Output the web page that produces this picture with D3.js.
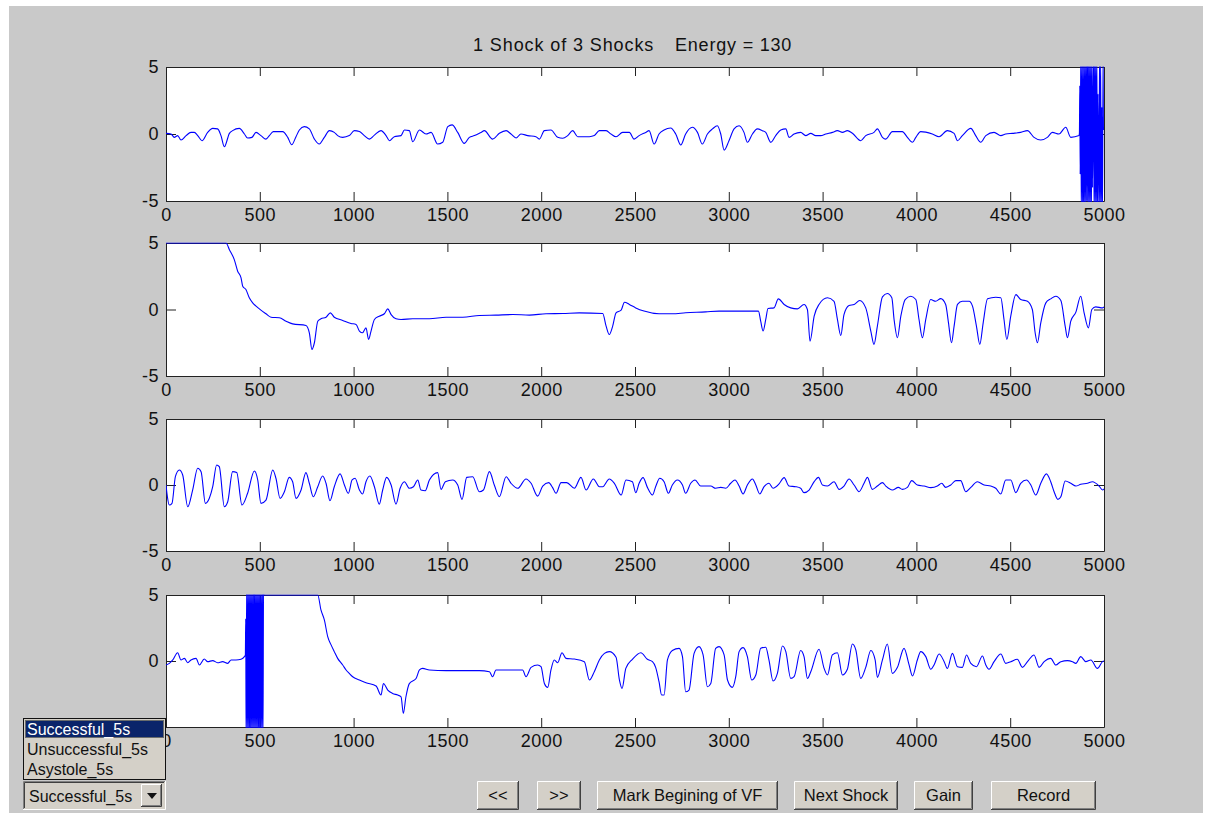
<!DOCTYPE html>
<html>
<head>
<meta charset="utf-8">
<script src="https://cdn.jsdelivr.net/npm/d3@7"></script>
<style>
  body { margin: 0; background: #fff; }
  svg { display: block; font-family: "Liberation Sans", Arial, sans-serif; }
</style>
</head>
<body>
<div class="fig"></div>
<script>
// ---- data: [sample, value] ----
const titleLeft = "1 Shock of 3 Shocks"
const titleRight = "Energy = 130"
const xTicks = [0, 500, 1000, 1500, 2000, 2500, 3000, 3500, 4000, 4500, 5000]
const yTicks = [-5, 0, 5]

const ch1 = [[0,0.05],[27,0],[44,-0.25],[62,-0.12],[80,-0.45],[107,-0.12],[133,0.12],[151,0.12],[169,-0.12],[192,-0.5],[222,0.12],[249,0.42],[275,0.38],[293,-0.12],[311,-0.95],[338,0.05],[355,0.25],[391,0.42],[418,0],[435,-0.3],[458,-0.25],[480,0.12],[506,-0.12],[533,-0.38],[551,-0.12],[572,0.18],[622,0.18],[649,-0.25],[670,-0.8],[693,-0.2],[711,0.3],[737,0.55],[764,0.38],[791,-0.38],[817,-0.75],[844,-0.25],[871,0.25],[897,0.12],[915,-0.12],[942,-0.25],[977,-0.12],[1004,0.25],[1031,0.18],[1057,-0.12],[1084,-0.38],[1111,-0.08],[1146,0.25],[1173,-0.12],[1191,-0.5],[1217,-0.2],[1253,-0.12],[1271,0.3],[1297,0.25],[1315,-0.58],[1351,0.3],[1386,0],[1413,0.12],[1448,-0.75],[1475,-0.62],[1502,0.55],[1525,0.68],[1555,0.12],[1590,-0.7],[1617,-0.25],[1644,-0.12],[1679,0.12],[1697,0.25],[1741,-0.38],[1777,0.05],[1813,0.25],[1839,0],[1866,-0.3],[1892,0],[1928,-0.12],[1972,-0.2],[1990,-0.38],[2017,0.25],[2052,0.3],[2088,-0.25],[2115,-0.32],[2141,-0.12],[2168,0.25],[2195,-0.2],[2257,-0.2],[2283,-0.12],[2310,0.25],[2346,0.25],[2372,0],[2399,-0.2],[2434,0.12],[2470,0.12],[2495,-0.38],[2522,-0.12],[2557,0.12],[2575,0.25],[2602,-0.75],[2628,0],[2655,0.3],[2690,0.45],[2717,0],[2744,-0.82],[2770,0],[2806,0.5],[2833,0.12],[2859,-0.75],[2886,0],[2913,0.38],[2939,0.62],[2957,0],[2975,-1.2],[3001,-0.5],[3028,0.38],[3055,0.62],[3081,0.12],[3099,-0.62],[3126,0],[3152,0.38],[3179,0.25],[3197,0.12],[3224,-0.62],[3250,-0.12],[3277,0.3],[3304,0.38],[3321,-0.25],[3348,0],[3383,0.12],[3410,-0.12],[3437,0.05],[3463,-0.12],[3490,-0.12],[3517,0],[3552,0.12],[3579,0.25],[3606,0.12],[3632,0.25],[3659,0.05],[3703,-0.5],[3730,-0.12],[3774,0.12],[3792,0.38],[3819,-0.25],[3837,-0.38],[3872,0.18],[3925,0.18],[3952,-0.25],[3979,-0.62],[3997,-0.25],[4023,0.18],[4085,0],[4121,-0.2],[4165,0.25],[4201,0.05],[4219,-0.5],[4245,-0.12],[4290,0.42],[4316,-0.12],[4343,-0.62],[4370,-0.12],[4414,0.12],[4450,-0.12],[4476,0],[4512,0.05],[4556,0.12],[4592,0.25],[4627,-0.25],[4663,-0.45],[4698,-0.25],[4725,0.12],[4760,0],[4796,0.5],[4823,-0.25],[4867,-0.12]]
// shock artifact at the end of trace 1
const shock1 = [[4869,0.1],[4871,3.6],[4873,-3],[4876,5.8],[4879,-6],[4882,6],[4885,-6],[4888,5.5],[4891,-6],[4894,6],[4897,-6],[4900,6],[4903,-6],[4906,6],[4909,-5],[4912,6],[4915,-6],[4918,6],[4921,-6],[4924,6],[4927,-6],[4930,6],[4933,-6],[4936,6],[4939,-4],[4944,6],[4947,-6],[4950,6],[4953,-6],[4956,6],[4959,-6],[4962,6],[4965,-6],[4968,3],[4973,-6],[4976,6],[4979,-6],[4982,6],[4985,-6],[4988,2],[4992,-6],[4995,6],[4997,0.3]]

const ch2 = [[0,5],[320,5],[338,4.5],[364,3.75],[382,2.88],[400,2.38],[409,1.75],[426,1.5],[444,0.88],[462,0.5],[480,0.25],[506,-0.05],[533,-0.32],[560,-0.58],[604,-0.62],[640,-0.88],[675,-1.08],[746,-1.2],[764,-1.75],[778,-3.0],[791,-2.5],[809,-0.88],[826,-0.7],[853,-0.58],[876,-0.25],[897,-0.58],[942,-0.82],[986,-1.05],[1013,-1.12],[1031,-1.62],[1048,-1.75],[1066,-1.38],[1080,-2.25],[1093,-1.62],[1111,-0.75],[1137,-0.5],[1164,-0.32],[1182,0.05],[1200,-0.38],[1226,-0.7],[1253,-0.75],[1315,-0.7],[1404,-0.7],[1493,-0.58],[1582,-0.58],[1670,-0.45],[1759,-0.42],[1848,-0.38],[1937,-0.42],[2026,-0.32],[2115,-0.3],[2203,-0.25],[2328,-0.3],[2346,-1.25],[2363,-1.88],[2381,-1.25],[2399,-0.25],[2426,-0.05],[2444,0.55],[2470,0.38],[2504,0.12],[2548,-0.12],[2628,-0.32],[2699,-0.32],[2770,-0.25],[2877,-0.18],[2948,-0.12],[3019,-0.12],[3090,-0.12],[3158,-0.12],[3170,-0.88],[3183,-1.62],[3197,-0.75],[3209,0.08],[3241,0.12],[3264,0.8],[3295,0.38],[3330,0.12],[3366,0.05],[3401,0.38],[3419,0],[3433,-2.38],[3455,-0.5],[3481,0.38],[3526,0.88],[3561,0.62],[3579,-0.75],[3597,-1.95],[3614,-0.38],[3641,0.3],[3668,0.38],[3698,0.68],[3730,0.12],[3757,-1.62],[3774,-2.62],[3792,-1.25],[3819,0.95],[3845,1.2],[3869,0.88],[3881,-0.75],[3899,-2.12],[3917,-0.5],[3940,0.75],[3970,1.0],[3997,0.75],[4014,-0.75],[4032,-2.12],[4050,-0.75],[4076,0.75],[4103,0.62],[4130,0.82],[4156,0.38],[4171,-1.0],[4187,-2.5],[4201,-1.25],[4219,0.38],[4245,0.62],[4281,0.62],[4299,0.25],[4320,-1.25],[4338,-2.62],[4356,-1.0],[4379,0.8],[4423,0.92],[4450,0.88],[4467,-0.75],[4482,-2.25],[4503,-0.5],[4530,1.12],[4556,0.75],[4592,0.62],[4618,0],[4633,-1.75],[4645,-2.5],[4663,-1.0],[4690,0.5],[4716,0.8],[4743,1.0],[4770,0.68],[4793,-1.25],[4805,-2.12],[4823,-0.88],[4850,-0.2],[4876,1.0],[4894,-0.25],[4917,-1.38],[4935,0],[4956,0.2],[4992,0.12],[5000,0.2]]

const ch3 = [[0,0],[5,-0.63],[18,-1.52],[32,-1.39],[50,0.63],[71,1.14],[89,0.76],[116,-1.65],[142,-0.38],[169,1.27],[187,1.01],[210,-1.39],[231,-1.01],[249,-0.13],[270,1.52],[284,1.39],[311,-1.65],[329,-1.27],[355,1.01],[377,0.94],[405,-1.52],[435,-0.63],[471,1.06],[489,0.38],[506,-1.39],[533,-1.14],[569,1.14],[586,0.51],[608,-1.01],[631,-0.51],[657,0.58],[675,0.25],[693,-1.01],[720,-0.38],[746,0.94],[764,0.13],[785,-0.89],[809,-0.13],[835,0.68],[853,0.13],[874,-1.19],[897,-0.13],[928,0.84],[951,0],[972,-0.63],[992,0.38],[1008,0.51],[1031,-0.38],[1048,-0.68],[1066,0.25],[1087,0.68],[1111,-0.13],[1137,-1.45],[1155,-0.38],[1176,0.58],[1200,0],[1226,-1.45],[1248,-0.25],[1271,0.25],[1297,-0.25],[1319,-0.13],[1342,0.38],[1359,-0.38],[1382,-0.43],[1404,0.38],[1448,0.94],[1466,-0.33],[1489,0.25],[1528,0.38],[1555,0],[1578,-1.09],[1603,0.58],[1635,0.63],[1670,-0.51],[1692,-0.38],[1724,1.01],[1750,0],[1777,-0.89],[1813,0.63],[1839,0.13],[1875,-0.25],[1919,0.46],[1946,0.13],[1981,-0.84],[2008,-0.08],[2040,0.18],[2061,-0.2],[2079,-0.63],[2106,0.18],[2136,0.18],[2177,-0.25],[2212,0.58],[2239,-0.38],[2278,0.46],[2310,-0.13],[2328,-0.13],[2363,0.46],[2390,0.13],[2426,-0.76],[2452,0.38],[2486,0.25],[2504,-0.58],[2522,0.13],[2543,0.56],[2566,-0.18],[2593,-0.76],[2610,-0.13],[2632,0.51],[2655,0.25],[2678,-0.63],[2699,0],[2726,0.38],[2753,0],[2770,-0.63],[2797,0.13],[2820,0.38],[2850,-0.08],[2877,-0.08],[2904,-0.08],[2930,-0.25],[2957,-0.18],[2984,-0.25],[3010,0.13],[3033,0.38],[3055,-0.08],[3076,-0.68],[3099,0],[3126,0.46],[3144,0],[3165,-0.68],[3188,-0.13],[3214,0.13],[3236,-0.25],[3268,0.08],[3295,0.56],[3321,-0.08],[3357,-0.13],[3383,-0.25],[3401,-0.58],[3428,-0.38],[3455,0.25],[3478,0.58],[3499,0],[3526,-0.08],[3561,0.25],[3588,-0.33],[3614,-0.08],[3641,0.46],[3668,0],[3694,-0.51],[3721,0.13],[3739,0.58],[3765,-0.33],[3792,-0.08],[3819,0.18],[3837,-0.08],[3872,-0.38],[3904,-0.18],[3925,-0.33],[3952,-0.18],[3975,0.33],[4005,0],[4041,-0.08],[4077,-0.2],[4112,-0.08],[4135,0.13],[4156,-0.18],[4183,0],[4210,0.33],[4236,0.33],[4263,-0.51],[4290,-0.18],[4325,0.25],[4361,0],[4396,-0.08],[4423,-0.25],[4450,-0.68],[4476,0.38],[4503,0.38],[4530,-0.58],[4556,0.13],[4587,0.38],[4610,0],[4636,-0.76],[4663,0.13],[4693,0.84],[4716,0.25],[4734,-0.51],[4754,-1.09],[4770,-0.89],[4793,0.3],[4823,0.13],[4850,-0.08],[4876,0.05],[4912,0.13],[4938,0.25],[4974,-0.08],[4992,-0.38],[5000,-0.3]]

const ch4Pre = [[0,-0.3],[18,-0.18],[36,0.08],[62,0.63],[80,0.08],[98,0.2],[116,-0.13],[133,0.08],[160,0.2],[178,-0.3],[204,0.15],[222,-0.05],[249,0.03],[275,-0.13],[302,-0.05],[329,-0.18],[347,0.08],[373,0.08],[400,0.13],[418,0.33],[423,0.46]]
// shock artifact in trace 4
const shock4 = [[425,3.2],[427,-6],[430,6],[433,-6],[436,6],[439,-6],[442,6],[445,-6],[448,6],[451,-6],[454,6],[457,-6],[460,6],[463,-6],[466,6],[469,-6],[472,6],[475,-6],[478,6],[481,-6],[484,6],[487,-6],[490,6],[493,-6],[496,6],[499,-6],[502,6],[505,-6],[508,6],[511,-6],[514,6],[517,-6],[520,6],[522,5]]
const ch4Post = [[524,5],[809,5],[826,3.87],[844,3.11],[862,1.85],[880,1.22],[897,0.71],[915,0.2],[942,-0.3],[960,-0.68],[977,-0.94],[995,-1.19],[1031,-1.44],[1066,-1.65],[1120,-1.9],[1146,-2.58],[1159,-1.71],[1182,-2.2],[1208,-2.46],[1235,-2.58],[1253,-2.71],[1265,-3.97],[1279,-2.71],[1297,-1.71],[1333,-1.33],[1351,-0.68],[1368,-0.56],[1404,-0.68],[1493,-0.73],[1582,-0.73],[1670,-0.73],[1724,-0.81],[1741,-1.19],[1759,-0.68],[1848,-0.68],[1901,-0.68],[1919,-1.19],[1946,-0.48],[1981,-0.3],[1999,-0.43],[2017,-1.7],[2035,-2.0],[2052,-0.68],[2070,0.08],[2088,-0.13],[2111,0.63],[2132,0.2],[2177,0.15],[2230,-0.05],[2257,-1.44],[2283,-0.81],[2310,0.08],[2337,0.58],[2363,0.71],[2399,0.28],[2417,-1.44],[2431,-2.08],[2451,-0.56],[2486,0.13],[2531,0.63],[2566,0.13],[2593,-0.05],[2610,-0.48],[2628,-1.57],[2642,-2.58],[2655,-2.58],[2673,0.08],[2699,0.79],[2735,0.96],[2753,0.33],[2770,-2.33],[2788,-2.2],[2815,0.58],[2841,1.09],[2863,0.46],[2886,-1.95],[2904,-1.7],[2930,0.96],[2948,1.09],[2975,0.46],[2993,-1.44],[3019,-2.0],[3037,-1.19],[3055,0.71],[3076,1.01],[3099,0.33],[3122,-1.44],[3144,-1.06],[3170,0.96],[3197,1.04],[3214,0.08],[3236,-1.52],[3259,-0.94],[3286,1.14],[3304,0.71],[3330,-1.32],[3348,-1.19],[3383,0.79],[3401,0.33],[3419,-1.32],[3437,-0.81],[3481,0.89],[3508,-0.56],[3526,-1.06],[3552,0.46],[3579,0.63],[3606,-1.06],[3632,-0.63],[3659,1.29],[3677,0.84],[3703,-1.32],[3730,-0.48],[3757,0.79],[3780,0.08],[3792,-1.24],[3819,0.08],[3845,1.29],[3872,-0.94],[3899,-0.48],[3934,0.96],[3961,-0.3],[3979,-1.14],[4005,0.08],[4023,0.71],[4050,0.33],[4077,-0.63],[4094,-0.3],[4121,0.53],[4148,-0.05],[4165,-0.56],[4192,0.58],[4219,-0.43],[4245,-0.48],[4267,0.46],[4290,-0.18],[4320,-0.43],[4352,0.38],[4370,-0.3],[4387,-0.63],[4414,-0.05],[4450,0.53],[4476,-0.18],[4503,-0.05],[4538,0.13],[4565,-0.48],[4592,-0.05],[4627,0.46],[4654,-0.48],[4681,-0.05],[4716,0.2],[4743,-0.3],[4770,-0.05],[4805,0.03],[4832,-0.05],[4850,-0.18],[4876,0.33],[4903,-0.05],[4930,0.08],[4965,-0.56],[4992,-0.05],[5000,0]]

const menuItems = ["Successful_5s", "Unsuccessful_5s", "Asystole_5s"]
const buttonLabels = ["<<", ">>", "Mark Begining of VF", "Next Shock", "Gain", "Record"]

// ---- layout ----
const W = 1214, H = 813
const plotLeft = 166, plotWidth = 938
const panelTops = [67, 243, 419, 595]
const panelHeights = [134, 133, 132, 132]
const traces = [ch1.concat(shock1), ch2, ch3, ch4Pre.concat(shock4, ch4Post)]

const svg = d3.select(".fig").append("svg")
    .attr("width", W)
    .attr("height", H)

// figure background
svg.append("rect")
    .attr("x", 9).attr("y", 6)
    .attr("width", 1194).attr("height", H - 6)
    .attr("fill", "#c9c9c9")

// title
svg.append("text")
    .attr("x", 473).attr("y", 51)
    .style("font-size", "18px")
    .style("letter-spacing", "0.9px")
    .attr("fill", "#111")
    .text(titleLeft)
svg.append("text")
    .attr("x", 675).attr("y", 51)
    .style("font-size", "18px")
    .style("letter-spacing", "0.8px")
    .attr("fill", "#111")
    .text(titleRight)

const x = d3.scaleLinear().domain([0, 5000]).range([0, plotWidth])
const plain = function(d) { return String(d) }

traces.forEach(function(data, i) {
    const h = panelHeights[i]
    const y = d3.scaleLinear().domain([-5, 5]).range([h, 0])

    const g = svg.append("g")
        .attr("transform", "translate(" + plotLeft + "," + panelTops[i] + ")")

    g.append("rect")
        .attr("width", plotWidth).attr("height", h)
        .attr("fill", "#fff")

    g.append("clipPath").attr("id", "clip" + i)
      .append("rect")
        .attr("x", 0).attr("y", -0.5)
        .attr("width", plotWidth + 1).attr("height", h + 1.5)

    // box with inward ticks on all four sides
    g.append("g")
        .attr("class", "x axis")
        .attr("transform", "translate(0," + h + ")")
        .call(d3.axisBottom(x).tickValues(xTicks).tickSizeInner(-9).tickSizeOuter(0).tickPadding(7).tickFormat(plain))
    g.append("g")
        .call(d3.axisTop(x).tickValues(xTicks).tickSizeInner(-9).tickSizeOuter(0).tickFormat(""))
    g.append("g")
        .attr("class", "y axis")
        .call(d3.axisLeft(y).tickValues(yTicks).tickSizeInner(-10).tickSizeOuter(0).tickPadding(7).tickFormat(plain))
    g.append("g")
        .attr("transform", "translate(" + plotWidth + ",0)")
        .call(d3.axisRight(y).tickValues(yTicks).tickSizeInner(-10).tickSizeOuter(0).tickFormat(""))

    g.selectAll(".domain, .tick line").attr("stroke", "#222")
    g.selectAll(".tick text")
        .attr("fill", "#111")
        .style("font-size", "18px")
        .style("font-family", "'Liberation Sans', Arial, sans-serif")
        .style("letter-spacing", "0.5px")

    g.append("path")
        .datum(data)
        .attr("clip-path", "url(#clip" + i + ")")
        .attr("fill", "none")
        .attr("stroke", "#0000ff")
        .attr("stroke-width", 1.1)
        .attr("d", d3.line()
            .curve(d3.curveMonotoneX)
            .x(function(d) { return x(d[0]) })
            .y(function(d) { return y(d[1]) }))
})

// ---- uicontrols ----
const face = "#d4d0c8"

function raised(sel, bx, by, bw, bh) {
    sel.append("rect").attr("x", bx).attr("y", by).attr("width", bw).attr("height", bh).attr("fill", face)
    sel.append("path").attr("fill", "none").attr("stroke", "#fff")
        .attr("d", "M" + (bx + 0.5) + "," + (by + bh - 1) + "V" + (by + 0.5) + "H" + (bx + bw - 1))
    sel.append("path").attr("fill", "none").attr("stroke", "#404040")
        .attr("d", "M" + bx + "," + (by + bh - 0.5) + "H" + (bx + bw - 0.5) + "V" + by)
    sel.append("path").attr("fill", "none").attr("stroke", "#808080")
        .attr("d", "M" + (bx + 1) + "," + (by + bh - 1.5) + "H" + (bx + bw - 1.5) + "V" + (by + 1))
}

const buttonBoxes = [[477, 42], [537, 44], [597, 181], [794, 104], [914, 59], [991, 105]]
buttonLabels.forEach(function(label, i) {
    const b = buttonBoxes[i]
    const bg = svg.append("g")
    raised(bg, b[0], 781, b[1], 29)
    bg.append("text")
        .attr("x", b[0] + b[1] / 2).attr("y", 801)
        .attr("text-anchor", "middle")
        .style("font-size", "16.5px")
        .attr("fill", "#111")
        .text(label)
})

// popup list (open)
const list = svg.append("g")
list.append("rect")
    .attr("x", 23.5).attr("y", 718.5).attr("width", 142).attr("height", 61)
    .attr("fill", face).attr("stroke", "#111")
list.append("rect")
    .attr("x", 25).attr("y", 720).attr("width", 139).attr("height", 18)
    .attr("fill", "#0a246a")
list.append("rect")
    .attr("x", 25.5).attr("y", 720.5).attr("width", 138).attr("height", 17)
    .attr("fill", "none").attr("stroke", "#c8b46e").attr("stroke-dasharray", "1,1")
list.selectAll("text.item")
    .data(menuItems)
    .enter()
    .append("text")
    .attr("class", "item")
    .attr("x", 27)
    .attr("y", function(d, i) { return 735 + i * 20 })
    .style("font-size", "16px")
    .attr("fill", function(d, i) { return i === 0 ? "#fff" : "#111" })
    .text(function(d) { return d })

// popup box (closed state)
const pop = svg.append("g")
pop.append("rect")
    .attr("x", 23).attr("y", 781).attr("width", 143).attr("height", 29)
    .attr("fill", face)
pop.append("path").attr("fill", "none").attr("stroke", "#808080")
    .attr("d", "M23.5,809V781.5H165")
pop.append("path").attr("fill", "none").attr("stroke", "#404040")
    .attr("d", "M24.5,808V782.5H164")
pop.append("path").attr("fill", "none").attr("stroke", "#fff")
    .attr("d", "M23,809.5H165.5V781")
pop.append("text")
    .attr("x", 29).attr("y", 802)
    .style("font-size", "16px")
    .attr("fill", "#111")
    .text(menuItems[0])
raised(pop, 141, 784, 21, 23)
pop.append("path")
    .attr("d", "M147,793H157L152,799Z")
    .attr("fill", "#111")
</script>
</body>
</html>
